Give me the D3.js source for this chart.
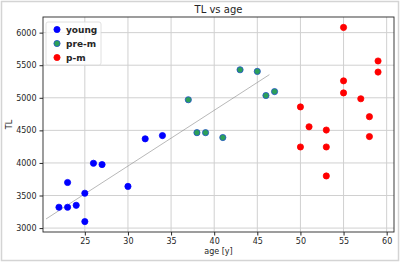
<!DOCTYPE html>
<html>
<head>
<meta charset="utf-8">
<script src="https://cdn.jsdelivr.net/npm/d3@7"></script>
<style>
  body { margin: 0; background: #fff; }
  text { font-family: "DejaVu Sans", sans-serif; fill: #262626; }
</style>
</head>
<body>
<div id="chart"></div>
<script>
// age (years) and TL values per group
const youngAge = [22, 23, 23, 24, 25, 25, 26, 27, 30, 32, 34];
const youngTL  = [3320, 3320, 3700, 3350, 3535, 3100, 3995, 3975, 3640, 4370, 4420];

const premAge = [37, 38, 39, 41, 43, 45, 46, 47];
const premTL  = [4970, 4465, 4465, 4390, 5430, 5405, 5035, 5095];

const pmAge = [50, 50, 51, 53, 53, 53, 55, 55, 55, 57, 58, 58, 59, 59];
const pmTL  = [4860, 4245, 4555, 4505, 4245, 3800, 6080, 5260, 5075, 4985, 4710, 4405, 5565, 5395];

// fitted trend line end points
const fitAge = [20.5, 46.4];
const fitTL  = [3140, 5355];

const xTicks = [25, 30, 35, 40, 45, 50, 55, 60];
const yTicks = [3000, 3500, 4000, 4500, 5000, 5500, 6000];

const groups = [
  { name: "young", ages: youngAge, tl: youngTL, fill: "#0000ff", stroke: "#0000ff" },
  { name: "pre-m", ages: premAge, tl: premTL, fill: "#2ca05a", stroke: "#2050c8" },
  { name: "p-m", ages: pmAge, tl: pmTL, fill: "#ff0000", stroke: "#ff0000" }
];

const width = 400, height = 262;
const margin = { top: 17, right: 6, bottom: 30, left: 43 };
const innerW = width - margin.left - margin.right;
const innerH = height - margin.top - margin.bottom;

const svg = d3.select("#chart").append("svg")
  .attr("width", width)
  .attr("height", height);

// figure frame
svg.append("rect")
  .attr("x", 1.5).attr("y", 1.5)
  .attr("width", width - 3).attr("height", height - 3)
  .attr("fill", "none")
  .attr("stroke", "#d4d4d4")
  .attr("stroke-width", 1.5);

const g = svg.append("g")
  .attr("transform", `translate(${margin.left},${margin.top})`);

const x = d3.scaleLinear().domain([20.15, 60.85]).range([0, innerW]);
const y = d3.scaleLinear().domain([2940, 6240]).range([innerH, 0]);

// grid
g.append("g").selectAll("line").data(xTicks).join("line")
  .attr("x1", d => x(d)).attr("x2", d => x(d))
  .attr("y1", 0).attr("y2", innerH)
  .attr("stroke", "#d0d0d0").attr("stroke-width", 1);
g.append("g").selectAll("line").data(yTicks).join("line")
  .attr("x1", 0).attr("x2", innerW)
  .attr("y1", d => y(d)).attr("y2", d => y(d))
  .attr("stroke", "#d0d0d0").attr("stroke-width", 1);

// axes
const xAxis = g.append("g")
  .attr("transform", `translate(0,${innerH})`)
  .call(d3.axisBottom(x).tickValues(xTicks).tickFormat(d3.format("d"))
    .tickSize(3.5).tickPadding(3).tickSizeOuter(0));
const yAxis = g.append("g")
  .call(d3.axisLeft(y).tickValues(yTicks).tickFormat(d3.format("d"))
    .tickSize(3.5).tickPadding(3).tickSizeOuter(0));
[xAxis, yAxis].forEach(a => {
  a.select(".domain").remove();
  a.selectAll("text").style("font-size", "8px").attr("fill", "#262626");
  a.selectAll("line").attr("stroke", "#262626");
});

// frame of the axes
g.append("rect")
  .attr("width", innerW).attr("height", innerH)
  .attr("fill", "none").attr("stroke", "#262626").attr("stroke-width", 0.9);

// trend line
g.append("line")
  .attr("x1", x(fitAge[0])).attr("y1", y(fitTL[0]))
  .attr("x2", x(fitAge[1])).attr("y2", y(fitTL[1]))
  .attr("stroke", "#888").attr("stroke-width", 0.6);

// points
groups.forEach(grp => {
  g.append("g").selectAll("circle").data(grp.ages).join("circle")
    .attr("cx", d => x(d))
    .attr("cy", (d, i) => y(grp.tl[i]))
    .attr("r", 3.1)
    .attr("fill", grp.fill)
    .attr("stroke", grp.stroke)
    .attr("stroke-width", 0.8);
});

// legend
const legend = g.append("g").attr("transform", "translate(3,5)");
legend.append("rect")
  .attr("width", 55).attr("height", 43).attr("rx", 2)
  .attr("fill", "#fff").attr("fill-opacity", 0.8)
  .attr("stroke", "#d8d8d8").attr("stroke-width", 0.8);
groups.forEach((grp, i) => {
  const row = legend.append("g").attr("transform", `translate(0,${7.5 + i * 14})`);
  row.append("circle")
    .attr("cx", 11).attr("cy", 0).attr("r", 3.1)
    .attr("fill", grp.fill).attr("stroke", grp.stroke).attr("stroke-width", 0.8);
  row.append("text")
    .attr("x", 20).attr("y", 0).attr("dy", "0.35em")
    .style("font-size", "9px").style("font-weight", "bold")
    .text(grp.name);
});

// title and labels
svg.append("text")
  .attr("x", margin.left + innerW / 2).attr("y", 13)
  .attr("text-anchor", "middle")
  .style("font-size", "10px")
  .text("TL vs age");

svg.append("text")
  .attr("x", margin.left + innerW / 2).attr("y", 254)
  .attr("text-anchor", "middle")
  .style("font-size", "8px")
  .text("age [y]");

svg.append("text")
  .attr("transform", `translate(12,${margin.top + innerH / 2}) rotate(-90)`)
  .attr("text-anchor", "middle")
  .style("font-size", "8px")
  .text("TL");
</script>
</body>
</html>
